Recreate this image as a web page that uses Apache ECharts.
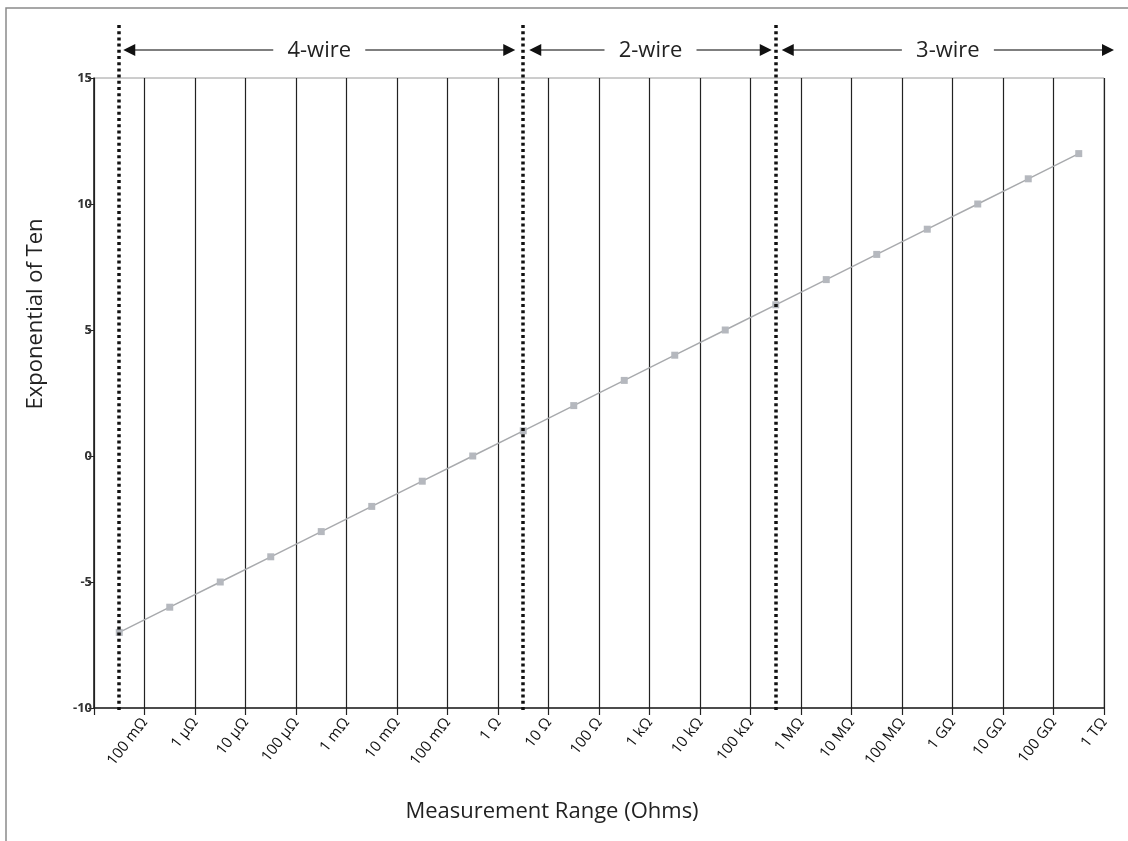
<!DOCTYPE html>
<html><head><meta charset="utf-8">
<script src="https://cdn.jsdelivr.net/npm/echarts@6/dist/echarts.min.js"></script>
<style>html,body{margin:0;padding:0;background:#fff}#c{width:1128px;height:841px}</style>
</head><body><div id="c"></div>
<script>
// ---- data ----
const categories = ['100 mΩ','1 μΩ','10 μΩ','100 μΩ','1 mΩ','10 mΩ','100 mΩ','1 Ω','10 Ω','100 Ω','1 kΩ','10 kΩ','100 kΩ','1 MΩ','10 MΩ','100 MΩ','1 GΩ','10 GΩ','100 GΩ','1 TΩ'];
const exponents = [-7,-6,-5,-4,-3,-2,-1,0,1,2,3,4,5,6,7,8,9,10,11,12];
const yMin = -10, yMax = 15, yInterval = 5;
const dividerIndices = [0, 8, 13];           // dotted separators (category index)
const sectionLabels = ['4-wire', '2-wire', '3-wire'];
const xAxisTitle = 'Measurement Range (Ohms)';
const yAxisTitle = 'Exponential of Ten';

const FONT = 'Open Sans';
const chart = echarts.init(document.getElementById('c'), null, {renderer: 'canvas'});

chart.setOption({
  animation: false,
  backgroundColor: '#fff',
  textStyle: {fontFamily: FONT},
  grid: {left: 94, right: 24, top: 78, bottom: 133, show: true, borderColor: '#9a9a9a', borderWidth: 1},
  xAxis: [{
    type: 'category', data: categories, boundaryGap: true,
    axisLine: {show: true, onZero: false, lineStyle: {color: '#222', width: 1.5}},
    axisTick: {show: false},
    axisLabel: {show: false, interval: 0},
    splitLine: {show: true, interval: 0, lineStyle: {color: '#222', width: 1.2}}
  }, {
    type: 'category', position: 'bottom', data: [''].concat(categories), boundaryGap: false,
    axisLine: {show: false, onZero: false},
    axisTick: {show: true, length: 7, interval: 0, lineStyle: {color: '#222', width: 1.2}},
    axisLabel: {interval: 0, rotate: 52, margin: 12, fontSize: 15, color: '#111', fontFamily: FONT},
    splitLine: {show: false}
  }],
  yAxis: {
    type: 'value', min: yMin, max: yMax, interval: yInterval,
    axisLine: {show: true, lineStyle: {color: '#222', width: 1.5}},
    axisTick: {show: true, length: 6, lineStyle: {color: '#222'}},
    axisLabel: {fontSize: 13, fontWeight: 'bold', color: '#333', margin: 2, fontFamily: FONT},
    splitLine: {show: false}
  },
  series: [{
    type: 'line', xAxisIndex: 0, data: exponents,
    symbol: 'rect', symbolSize: 7, showSymbol: true,
    itemStyle: {color: '#b5b8be'},
    lineStyle: {color: '#a8aaad', width: 1.5},
    z: 3
  }]
});

// ---- annotations placed via the chart's own scales ----
const px = i => chart.convertToPixel({xAxisIndex: 0}, i);
const band = px(1) - px(0);
const rightEdge = px(categories.length - 1) + band / 2;
const yBottom = chart.convertToPixel({yAxisIndex: 0}, yMin);
const arrowY = 50;
const g = [];

g.push({type: 'rect', shape: {x: 6, y: 8, width: 1130, height: 840}, style: {fill: 'none', stroke: '#8a8a8a', lineWidth: 1.5}, z: 100});

dividerIndices.forEach(i => {
  const x = Math.round(px(i));
  g.push({type: 'line', shape: {x1: x, y1: 25, x2: x, y2: yBottom + 2},
    style: {stroke: '#111', lineWidth: 3.5, lineDash: [3, 3.2]}, z: 110});
});

const spans = [
  [px(dividerIndices[0]) + 4, px(dividerIndices[1]) - 8],
  [px(dividerIndices[1]) + 6, px(dividerIndices[2]) - 4],
  [px(dividerIndices[2]) + 6, rightEdge + 10]
];
spans.forEach((s, k) => {
  const [a, b] = s;
  const cx = (a + b) / 2;
  const half = 46;
  g.push({type: 'line', shape: {x1: a + 8, y1: arrowY, x2: cx - half, y2: arrowY}, style: {stroke: '#555', lineWidth: 1.4}, z: 110});
  g.push({type: 'line', shape: {x1: cx + half, y1: arrowY, x2: b - 8, y2: arrowY}, style: {stroke: '#555', lineWidth: 1.4}, z: 110});
  g.push({type: 'polygon', shape: {points: [[a, arrowY], [a + 12, arrowY - 6], [a + 12, arrowY + 6]]}, style: {fill: '#111'}, z: 110});
  g.push({type: 'polygon', shape: {points: [[b, arrowY], [b - 12, arrowY - 6], [b - 12, arrowY + 6]]}, style: {fill: '#111'}, z: 110});
  g.push({type: 'text', x: cx, y: arrowY + 1, style: {text: sectionLabels[k], font: '22px "' + FONT + '"', fill: '#222', align: 'center', verticalAlign: 'middle'}, z: 110});
});

g.push({type: 'text', x: 552, y: 812, style: {text: xAxisTitle, font: '22px "' + FONT + '"', fill: '#222', align: 'center', verticalAlign: 'middle'}, z: 110});
g.push({type: 'text', x: 36, y: 314, rotation: Math.PI / 2, style: {text: yAxisTitle, font: '22px "' + FONT + '"', fill: '#222', align: 'center', verticalAlign: 'middle'}, z: 110});

chart.setOption({graphic: g});
</script>
</body></html>
